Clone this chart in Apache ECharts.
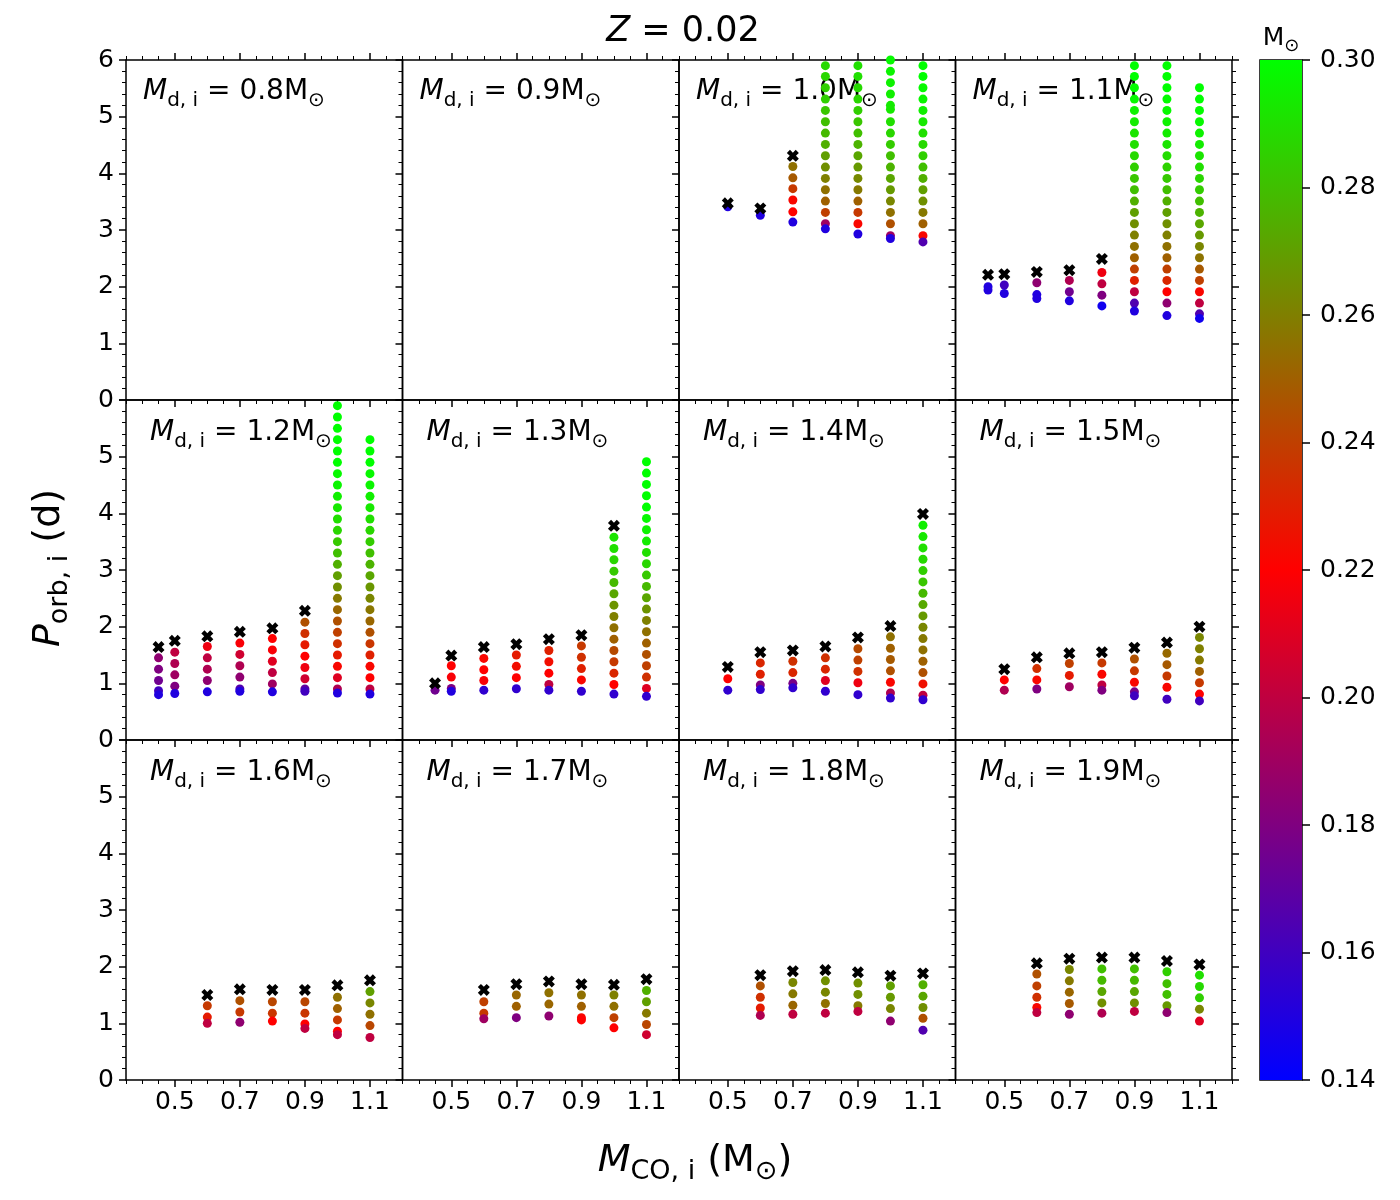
<!DOCTYPE html>
<html><head><meta charset="utf-8">
<script src="https://cdn.jsdelivr.net/npm/echarts@6/dist/echarts.min.js"></script>
<style>html,body{margin:0;padding:0;background:#fff}#c{width:1400px;height:1200px}</style>
</head><body><div id="c"></div>
<script>
// ---- data: each column = [M_CO,i, [P_orb,i values], [final WD mass values]] ----
const D08 = [];
const X08 = [];
const D09 = [];
const X09 = [];
const D10 = [
 [0.5,[3.41],[.15]],
 [0.6,[3.26],[.15]],
 [0.7,[4.12,3.92,3.73,3.53,3.32,3.14],[.255,.248,.238,.222,.22,.15]],
 [0.8,[5.90,5.71,5.51,5.31,5.11,4.91,4.71,4.51,4.31,4.11,3.91,3.71,3.51,3.31,3.11,3.02],[.288,.287,.285,.285,.282,.28,.278,.275,.27,.265,.26,.255,.25,.24,.19,.15]],
 [0.9,[5.90,5.71,5.51,5.31,5.11,4.91,4.71,4.51,4.31,4.11,3.91,3.71,3.51,3.31,3.11,2.93],[.29,.29,.288,.287,.285,.282,.28,.276,.272,.268,.263,.258,.25,.238,.222,.15]],
 [1.0,[6.00,5.80,5.60,5.40,5.20,5.13,4.91,4.71,4.51,4.31,4.11,3.91,3.71,3.51,3.31,3.11,2.90,2.85],[.298,.297,.296,.295,.294,.293,.29,.287,.284,.28,.276,.272,.268,.262,.255,.245,.19,.15]],
 [1.1,[5.90,5.71,5.51,5.31,5.11,4.91,4.71,4.51,4.31,4.11,3.91,3.71,3.51,3.31,3.11,2.90,2.79],[.3,.3,.298,.297,.295,.293,.29,.288,.285,.28,.275,.27,.265,.258,.25,.222,.165]]
];
const X10 = [[0.5,3.47],[0.6,3.38],[0.7,4.31]];
const D11 = [
 [0.45,[2.00,1.94],[.15,.15]],
 [0.5,[2.03,1.88],[.16,.15]],
 [0.6,[2.07,1.86,1.79],[.185,.15,.15]],
 [0.7,[2.11,1.91,1.75],[.195,.175,.15]],
 [0.8,[2.25,2.05,1.85,1.66],[.215,.2,.18,.145]],
 [0.9,[5.90,5.71,5.51,5.31,5.11,4.91,4.71,4.51,4.31,4.11,3.91,3.71,3.51,3.31,3.11,2.91,2.71,2.51,2.31,2.11,1.91,1.71,1.57],[.3,.3,.299,.298,.296,.294,.292,.29,.288,.285,.282,.28,.275,.27,.265,.26,.255,.25,.24,.23,.2,.165,.15]],
 [1.0,[5.90,5.71,5.51,5.31,5.11,4.91,4.71,4.51,4.31,4.11,3.91,3.71,3.51,3.31,3.11,2.91,2.71,2.51,2.31,2.11,1.91,1.71,1.49],[.3,.3,.3,.299,.298,.296,.294,.292,.289,.286,.283,.28,.275,.27,.265,.26,.255,.25,.24,.232,.22,.185,.15]],
 [1.1,[5.51,5.31,5.11,4.91,4.71,4.51,4.31,4.11,3.91,3.71,3.51,3.31,3.11,2.91,2.71,2.51,2.31,2.11,1.91,1.71,1.52,1.44],[.3,.3,.299,.298,.296,.294,.292,.29,.287,.284,.28,.276,.272,.268,.262,.256,.248,.24,.222,.2,.165,.145]]
];
const X11 = [[0.45,2.21],[0.5,2.22],[0.6,2.26],[0.7,2.29],[0.8,2.49]];
const D12 = [
 [0.45,[1.45,1.25,1.05,0.87,0.80],[.185,.18,.175,.16,.15]],
 [0.5,[1.55,1.35,1.15,0.95,0.82],[.2,.195,.19,.18,.15]],
 [0.6,[1.65,1.45,1.25,1.05,0.85],[.215,.2,.195,.185,.15]],
 [0.7,[1.71,1.51,1.31,1.11,0.90,0.86],[.218,.205,.195,.185,.165,.15]],
 [0.8,[1.79,1.59,1.39,1.19,0.99,0.85],[.22,.218,.21,.2,.19,.15]],
 [0.9,[2.08,1.88,1.68,1.48,1.28,1.08,0.90,0.86],[.245,.235,.228,.22,.215,.205,.17,.16]],
 [1.0,[5.9,5.7,5.5,5.3,5.1,4.9,4.7,4.5,4.3,4.1,3.9,3.7,3.5,3.3,3.1,2.9,2.7,2.5,2.3,2.1,1.9,1.7,1.5,1.3,1.1,0.9,0.83],[.3,.3,.3,.3,.3,.3,.298,.297,.295,.293,.29,.287,.283,.28,.275,.27,.265,.258,.252,.245,.24,.235,.228,.222,.21,.195,.15]],
 [1.1,[5.3,5.1,4.9,4.7,4.5,4.3,4.1,3.9,3.7,3.5,3.3,3.1,2.9,2.7,2.5,2.3,2.1,1.9,1.7,1.5,1.3,1.1,0.9,0.81],[.3,.3,.3,.298,.297,.295,.293,.29,.287,.284,.28,.276,.272,.267,.262,.257,.252,.245,.237,.23,.222,.22,.2,.15]]
];
const X12 = [[0.45,1.64],[0.5,1.75],[0.6,1.83],[0.7,1.91],[0.8,1.97],[0.9,2.28]];
const D13 = [
 [0.45,[0.88],[.175]],
 [0.5,[1.31,1.11,0.91,0.86],[.22,.218,.18,.15]],
 [0.6,[1.44,1.24,1.05,0.88],[.222,.22,.218,.155]],
 [0.7,[1.50,1.30,1.10,0.905],[.228,.224,.22,.155]],
 [0.8,[1.58,1.38,1.18,0.98,0.88],[.23,.224,.22,.2,.155]],
 [0.9,[1.66,1.46,1.26,1.06,0.86],[.238,.235,.23,.222,.155]],
 [1.0,[3.58,3.38,3.18,2.98,2.78,2.58,2.38,2.18,1.98,1.78,1.58,1.38,1.18,0.98,0.81],[.292,.29,.287,.283,.278,.272,.266,.26,.255,.25,.243,.238,.232,.22,.155]],
 [1.1,[4.91,4.71,4.51,4.31,4.11,3.91,3.71,3.51,3.31,3.11,2.91,2.71,2.51,2.31,2.11,1.91,1.71,1.51,1.31,1.11,0.91,0.77],[.3,.3,.3,.3,.3,.298,.296,.294,.29,.287,.283,.278,.272,.266,.26,.255,.25,.245,.24,.235,.21,.155]]
];
const X13 = [[0.45,1.0],[0.5,1.49],[0.6,1.64],[0.7,1.69],[0.8,1.78],[0.9,1.85],[1.0,3.78]];
const D14 = [
 [0.5,[1.08,0.88],[.22,.155]],
 [0.6,[1.36,1.16,0.97,0.89],[.232,.23,.18,.155]],
 [0.7,[1.39,1.19,1.00,0.92],[.235,.232,.178,.155]],
 [0.8,[1.45,1.25,1.05,0.86],[.235,.232,.21,.155]],
 [0.9,[1.61,1.41,1.21,1.01,0.80],[.243,.24,.235,.215,.155]],
 [1.0,[1.82,1.62,1.42,1.22,1.02,0.83,0.74],[.255,.25,.248,.245,.222,.195,.155]],
 [1.1,[3.79,3.59,3.39,3.19,2.99,2.79,2.59,2.39,2.19,1.99,1.79,1.59,1.39,1.19,0.99,0.79,0.71],[.295,.293,.29,.288,.285,.282,.278,.273,.268,.262,.258,.255,.25,.245,.225,.2,.155]]
];
const X14 = [[0.5,1.29],[0.6,1.55],[0.7,1.58],[0.8,1.65],[0.9,1.81],[1.0,2.01],[1.1,3.99]];
const D15 = [
 [0.5,[1.06,0.88],[.22,.195]],
 [0.6,[1.26,1.06,0.90],[.235,.222,.18]],
 [0.7,[1.35,1.14,0.94],[.24,.228,.19]],
 [0.8,[1.36,1.16,0.97,0.88],[.238,.222,.2,.18]],
 [0.9,[1.43,1.22,1.02,0.85,0.78],[.245,.238,.222,.178,.16]],
 [1.0,[1.53,1.33,1.13,0.93,0.72],[.253,.248,.238,.222,.16]],
 [1.1,[1.81,1.61,1.41,1.21,1.01,0.81,0.69],[.262,.26,.258,.25,.238,.22,.16]]
];
const X15 = [[0.5,1.25],[0.6,1.46],[0.7,1.53],[0.8,1.55],[0.9,1.63],[1.0,1.72],[1.1,2.0]];
const D16 = [
 [0.6,[1.31,1.11,1.00],[.238,.228,.2]],
 [0.7,[1.40,1.20,1.02],[.245,.238,.185]],
 [0.8,[1.38,1.18,1.04],[.242,.237,.22]],
 [0.9,[1.38,1.18,0.99,0.91],[.242,.237,.22,.2]],
 [1.0,[1.46,1.26,1.06,0.86,0.80],[.255,.25,.238,.22,.2]],
 [1.1,[1.56,1.36,1.16,0.96,0.75],[.27,.262,.255,.242,.2]]
];
const X16 = [[0.6,1.5],[0.7,1.6],[0.8,1.59],[0.9,1.59],[1.0,1.67],[1.1,1.76]];
const D17 = [
 [0.6,[1.38,1.18,1.08],[.24,.238,.19]],
 [0.7,[1.50,1.30,1.10],[.252,.25,.18]],
 [0.8,[1.54,1.34,1.13],[.255,.252,.185]],
 [0.9,[1.50,1.30,1.10,1.06],[.255,.25,.222,.22]],
 [1.0,[1.50,1.30,1.10,0.92],[.26,.255,.24,.22]],
 [1.1,[1.58,1.38,1.18,0.98,0.80],[.275,.27,.258,.242,.205]]
];
const X17 = [[0.6,1.59],[0.7,1.69],[0.8,1.74],[0.9,1.69],[1.0,1.68],[1.1,1.78]];
const D18 = [
 [0.6,[1.66,1.46,1.27,1.14],[.245,.235,.228,.195]],
 [0.7,[1.72,1.52,1.32,1.16],[.262,.258,.252,.2]],
 [0.8,[1.75,1.55,1.35,1.18],[.265,.262,.255,.2]],
 [0.9,[1.71,1.51,1.31,1.21],[.265,.265,.258,.2]],
 [1.0,[1.66,1.46,1.26,1.04],[.27,.268,.262,.185]],
 [1.1,[1.68,1.48,1.28,1.09,0.88],[.275,.272,.265,.245,.165]]
];
const X18 = [[0.6,1.85],[0.7,1.92],[0.8,1.94],[0.9,1.90],[1.0,1.84],[1.1,1.88]];
const D19 = [
 [0.6,[1.87,1.66,1.46,1.28,1.19],[.245,.24,.235,.222,.2]],
 [0.7,[1.95,1.75,1.55,1.35,1.16],[.262,.258,.252,.248,.185]],
 [0.8,[1.96,1.76,1.56,1.36,1.18],[.28,.278,.272,.265,.195]],
 [0.9,[1.96,1.76,1.56,1.36,1.21],[.28,.278,.272,.265,.2]],
 [1.0,[1.91,1.70,1.51,1.31,1.19],[.285,.28,.28,.268,.185]],
 [1.1,[1.85,1.65,1.45,1.25,1.04],[.29,.288,.285,.262,.21]]
];
const X19 = [[0.6,2.06],[0.7,2.14],[0.8,2.16],[0.9,2.16],[1.0,2.10],[1.1,2.04]];

const MD_LABELS = ['0.8','0.9','1.0','1.1','1.2','1.3','1.4','1.5','1.6','1.7','1.8','1.9'];
const XMAJ = [0.5,0.7,0.9,1.1];
const XMIN = [0.35,0.4,0.45,0.55,0.6,0.65,0.75,0.8,0.85,0.95,1.0,1.05,1.15,1.2];
const YMAJ = [0,1,2,3,4,5,6];
const YLAB_TOP = [0,1,2,3,4,5,6];
const YLAB_OTHER = [0,1,2,3,4,5];
const YMIN = [0.2,0.4,0.6,0.8,1.2,1.4,1.6,1.8,2.2,2.4,2.6,2.8,3.2,3.4,3.6,3.8,4.2,4.4,4.6,4.8,5.2,5.4,5.6,5.8];
const CB_TICKS = [0.14,0.16,0.18,0.20,0.22,0.24,0.26,0.28,0.30];
const CB_MIN = 0.14, CB_SPAN = 0.16;

// ---- build ----
const PANELS = [D08,D09,D10,D11,D12,D13,D14,D15,D16,D17,D18,D19];
const CROSSES = [X08,X09,X10,X11,X12,X13,X14,X15,X16,X17,X18,X19];
const FONT = 'DejaVu Sans';
const XPATH = 'path://M2.6,0 L5,2.4 L7.4,0 L10,2.6 L7.6,5 L10,7.4 L7.4,10 L5,7.6 L2.6,10 L0,7.4 L2.4,5 L0,2.6 Z';
const GL = 126, GT = 60, GW = 276.5, GH = 340;

const grids = [], xAxes = [], yAxes = [], series = [], graphics = [], dotSeries = [];
const tickLbl = {fontSize: 25, color: '#000', fontFamily: FONT};

function xAx(i, pos, vals, len, w, labels) {
  return {gridIndex: i, type: 'value', min: 0.35, max: 1.2, position: pos,
    splitLine: {show: false}, axisLine: {show: false, onZero: false},
    axisTick: {show: true, inside: false, length: len, customValues: vals, lineStyle: {color: '#000', width: w}},
    axisLabel: labels ? Object.assign({show: true, customValues: labels, margin: 10, formatter: v => v.toFixed(1)}, tickLbl) : {show: false}};
}
function yAx(i, pos, vals, len, w, labels) {
  return {gridIndex: i, type: 'value', min: 0, max: 6, position: pos,
    splitLine: {show: false}, axisLine: {show: false, onZero: false},
    axisTick: {show: true, inside: false, length: len, customValues: vals, lineStyle: {color: '#000', width: w}},
    axisLabel: labels ? Object.assign({show: true, customValues: labels, margin: 12, formatter: v => String(Math.round(v))}, tickLbl) : {show: false}};
}

const richBase = {
  i: {fontSize: 28, fontStyle: 'italic', fontFamily: FONT, fill: '#000', lineHeight: 32, verticalAlign: 'top'},
  n: {fontSize: 28, fontFamily: FONT, fill: '#000', lineHeight: 32, verticalAlign: 'top'},
  s: {fontSize: 20, fontFamily: FONT, fill: '#000', lineHeight: 24, verticalAlign: 'top', padding: [13, 0, 0, 0]}
};

PANELS.forEach((dcols, i) => {
  const r = Math.floor(i / 4), c = i % 4;
  const left = GL + c * GW, top = GT + r * GH;
  grids.push({left: left, top: top, width: GW, height: GH, show: true, borderColor: '#000', borderWidth: 1.5, backgroundColor: 'transparent'});
  const xi = xAxes.length;
  xAxes.push(xAx(i, 'bottom', XMAJ, 7, 1.5, r === 2 ? XMAJ : null));
  xAxes.push(xAx(i, 'bottom', XMIN, 4, 1, null));
  if (r === 0) {
    xAxes.push(xAx(i, 'top', XMAJ, 7, 1.5, null));
    xAxes.push(xAx(i, 'top', XMIN, 4, 1, null));
  }
  const yi = yAxes.length;
  yAxes.push(yAx(i, 'left', YMAJ, 7, 1.5, c === 0 ? (r === 0 ? YLAB_TOP : YLAB_OTHER) : null));
  yAxes.push(yAx(i, 'left', YMIN, 4, 1, null));
  if (c === 3) {
    yAxes.push(yAx(i, 'right', YMAJ, 7, 1.5, null));
    yAxes.push(yAx(i, 'right', YMIN, 4, 1, null));
  }
  const pts = [];
  dcols.forEach(col => { col[1].forEach((p, k) => pts.push([col[0], p, col[2][k]])); });
  if (pts.length) {
    dotSeries.push(series.length);
    series.push({type: 'scatter', xAxisIndex: xi, yAxisIndex: yi, symbol: 'circle', symbolSize: 9,
      itemStyle: {opacity: 1}, data: pts, z: 2, silent: true});
  }
  if (CROSSES[i].length) {
    series.push({type: 'scatter', xAxisIndex: xi, yAxisIndex: yi, symbol: XPATH, symbolSize: 12,
      itemStyle: {color: '#000', opacity: 1}, data: CROSSES[i], z: 3, silent: true});
  }
  graphics.push({type: 'text', x: left + (r === 0 ? 17 : 24), y: top + (r === 0 ? 34 : 35),
    style: {text: '{i|M}{s|d, i}{n| = ' + MD_LABELS[i] + 'M}{s|⊙}', rich: richBase, align: 'left', verticalAlign: 'middle'}});
});

// colour bar
const cbG = grids.length;
grids.push({left: 1260, top: 60, width: 42, height: 1020, show: true, borderColor: '#000', borderWidth: 1.5, backgroundColor: 'transparent'});
const cbX = xAxes.length;
xAxes.push({gridIndex: cbG, type: 'category', data: ['cb'], show: false});
const cbY = yAxes.length;
yAxes.push({gridIndex: cbG, type: 'value', min: 0.14, max: 0.30, position: 'right',
  splitLine: {show: false}, axisLine: {show: false, onZero: false},
  axisTick: {show: true, inside: false, length: 8, customValues: CB_TICKS, lineStyle: {color: '#000', width: 1.5}},
  axisLabel: Object.assign({show: true, customValues: CB_TICKS, margin: 18, formatter: v => v.toFixed(2)}, tickLbl)});
series.push({type: 'bar', xAxisIndex: cbX, yAxisIndex: cbY, stack: 'cb', barWidth: '100%', silent: true,
  itemStyle: {color: 'rgba(0,0,0,0)'}, data: [CB_MIN]});
series.push({type: 'bar', xAxisIndex: cbX, yAxisIndex: cbY, stack: 'cb', barWidth: '100%', silent: true,
  itemStyle: {color: {type: 'linear', x: 0, y: 1, x2: 0, y2: 0, colorStops: [
    {offset: 0, color: '#0000ff'}, {offset: 0.5, color: '#ff0000'}, {offset: 1, color: '#00ff00'}]}},
  data: [CB_SPAN]});

// titles and axis names
graphics.push({type: 'text', x: 683, y: 32, style: {text: '{i|Z}{n| = 0.02}', align: 'center', verticalAlign: 'middle',
  rich: {i: {fontSize: 35, fontStyle: 'italic', fontFamily: FONT, fill: '#000'}, n: {fontSize: 35, fontFamily: FONT, fill: '#000'}}}});
const richBig = {
  i: {fontSize: 38, fontStyle: 'italic', fontFamily: FONT, fill: '#000', lineHeight: 44, verticalAlign: 'top'},
  n: {fontSize: 38, fontFamily: FONT, fill: '#000', lineHeight: 44, verticalAlign: 'top'},
  s: {fontSize: 27, fontFamily: FONT, fill: '#000', lineHeight: 31, verticalAlign: 'top', padding: [16, 0, 0, 0]}
};
graphics.push({type: 'text', x: 695, y: 1164, style: {text: '{i|M}{s|CO, i}{n| (M}{s|⊙}{n|)}', align: 'center', verticalAlign: 'middle', rich: richBig}});
graphics.push({type: 'text', x: 52, y: 568, rotation: Math.PI / 2, style: {text: '{i|P}{s|orb, i}{n| (d)}', align: 'center', verticalAlign: 'middle', rich: richBig}});
graphics.push({type: 'text', x: 1281, y: 40, style: {text: '{n|M}{s|⊙}', align: 'center', verticalAlign: 'middle',
  rich: {n: {fontSize: 25, fontFamily: FONT, fill: '#000', lineHeight: 28, verticalAlign: 'top'},
         s: {fontSize: 18, fontFamily: FONT, fill: '#000', lineHeight: 22, verticalAlign: 'top', padding: [11, 0, 0, 0]}}}});

const chart = echarts.init(document.getElementById('c'), null, {renderer: 'canvas'});
chart.setOption({
  animation: false,
  backgroundColor: '#fff',
  grid: grids, xAxis: xAxes, yAxis: yAxes, series: series,
  visualMap: [{type: 'continuous', show: false, min: 0.14, max: 0.30, dimension: 2, seriesIndex: dotSeries,
    inRange: {color: ['#0000ff', '#ff0000', '#00ff00']}}],
  graphic: graphics
});
</script></body></html>
